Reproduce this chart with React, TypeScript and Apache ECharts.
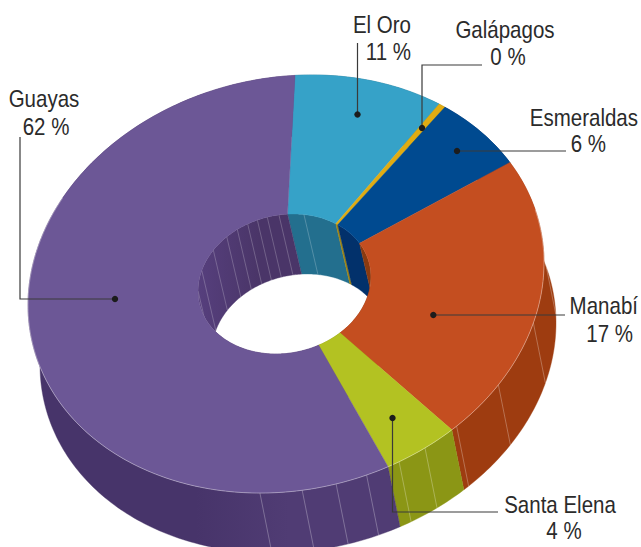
import React, { useEffect, useRef } from "react";
import * as echarts from "echarts";

// Slice sizes as drawn (degrees of the ring, clockwise, starting just right of 12 o'clock)
const names = ["El Oro", "Galápagos", "Esmeraldas", "Manabí", "Santa Elena", "Guayas"];
const shares = [34.4, 1.6, 22.2, 79.8, 16.7, 205.3];
const percentLabels = ["11 %", "0 %", "6 %", "17 %", "4 %", "62 %"];
const startAngle = 2;

const topColors = ["#36a2c8", "#e0ac12", "#004a90", "#c44e20", "#b3c222", "#6c5796"];
const outerWallColors = ["#247089", "#9a7a10", "#02316b", "#9e3c10", "#8b9615", "#47346a"];
const innerWallColors = ["#236f8e", "#a08410", "#02316b", "#8a3a10", "#8b9615", "#4e3a70"];

// Facet lines on the walls (angles)
const outerFacets = [87.6, 106.5, 124.6, 138.6, 147.4, 154, 161.8, 168.8, 176.4, 185.8];
const innerFacets = [270, 286.9, 304.6, 318.1, 326.9, 334.8, 341.7, 348.5, 356.3, 13];

// Annotation layout
const labelLayout = [
  { ax: "right", nx: 411, ny: 25, px: 411, py: 52 },
  { ax: "center", nx: 505, ny: 30, px: 508, py: 57 },
  { ax: "right", nx: 638, ny: 118, px: 606, py: 144 },
  { ax: "right", nx: 638, ny: 306, px: 633, py: 334 },
  { ax: "center", nx: 560, ny: 505, px: 564, py: 531 },
  { ax: "center", nx: 44, ny: 99, px: 46, py: 127 },
];
const leaders = [
  [[357.5, 114.5], [357.5, 43]],
  [[422, 128], [422, 65], [482, 65]],
  [[457, 151], [566, 151]],
  [[433.3, 315], [565, 315]],
  [[392.5, 418], [392.5, 512], [498, 512]],
  [[115, 299], [20, 299], [20, 137]],
];

const CX = 286, CY = 284;
const ICX = 284.5, ICY = 284;
const AX = 258, SKEW = -21, AY = 208;
const HOLE = 0.335;
const OUTER_SX = 12, INNER_SX = 14, SY = 60;
const FONT = '"Liberation Sans", sans-serif';

const rad = (d: number) => (d * Math.PI) / 180;
const outerPt = (t: number, ox = 0, oy = 0) => {
  const s = Math.sin(rad(t)), c = Math.cos(rad(t));
  return [CX + AX * s + ox, CY + SKEW * s - AY * c + oy];
};
const innerPt = (t: number, ox = 0, oy = 0) => {
  const s = Math.sin(rad(t)), c = Math.cos(rad(t));
  return [ICX + HOLE * AX * s + ox, ICY + HOLE * (SKEW * s - AY * c) + oy];
};
const arc = (f: any, a: number, b: number, ox = 0, oy = 0) => {
  const pts: number[][] = [];
  const n = Math.max(2, Math.ceil(b - a));
  for (let i = 0; i <= n; i++) pts.push(f(a + ((b - a) * i) / n, ox, oy));
  return pts;
};

const bounds: number[] = [];
shares.reduce((acc, v) => {
  bounds.push(acc);
  return acc + v;
}, startAngle);
const sliceData = shares.map((v, i) => ({ name: names[i], value: v }));

const guayasOuter = new echarts.graphic.LinearGradient(0, 0, 1, 0, [
  { offset: 0.45, color: "#47346a" },
  { offset: 0.7, color: "#503c74" },
]);
const guayasInner = new echarts.graphic.LinearGradient(0, 0, 1, 0, [
  { offset: 0, color: "#563f7d" },
  { offset: 0.45, color: "#4a3568" },
]);

const band = (i: number, f: any, sx: number, color: any) => {
  const a = bounds[i], b = a + shares[i];
  const pts = [...arc(f, a, b), ...arc(f, a, b, sx, SY).reverse()];
  return {
    type: "polygon",
    shape: { points: pts },
    style: { fill: color, stroke: typeof color === "string" ? color : "#4a3568", lineWidth: 0.4 },
  };
};

const series: any[] = [
  {
    type: "custom",
    name: "outer walls",
    coordinateSystem: "none",
    z: 2,
    silent: true,
    data: sliceData,
    renderItem: (p: any) =>
      band(p.dataIndex, outerPt, OUTER_SX, p.dataIndex === 5 ? guayasOuter : outerWallColors[p.dataIndex]),
  },
  {
    type: "custom",
    name: "outer facets",
    coordinateSystem: "none",
    z: 3,
    silent: true,
    data: outerFacets,
    renderItem: (p: any, api: any) => {
      const t = api.value(0);
      const a = outerPt(t), b = outerPt(t, OUTER_SX, SY);
      return {
        type: "line",
        shape: { x1: a[0], y1: a[1], x2: b[0], y2: b[1] },
        style: { stroke: "rgba(255,255,255,0.35)", lineWidth: 0.8 },
      };
    },
  },
  {
    type: "custom",
    name: "inner walls",
    coordinateSystem: "none",
    z: 4,
    silent: true,
    data: sliceData,
    renderItem: (p: any) =>
      band(p.dataIndex, innerPt, INNER_SX, p.dataIndex === 5 ? guayasInner : innerWallColors[p.dataIndex]),
  },
  {
    type: "custom",
    name: "inner facets",
    coordinateSystem: "none",
    z: 5,
    silent: true,
    data: innerFacets,
    renderItem: (p: any, api: any) => {
      const t = api.value(0);
      const a = innerPt(t), b = innerPt(t, INNER_SX, SY);
      return {
        type: "line",
        shape: { x1: a[0], y1: a[1], x2: b[0], y2: b[1] },
        style: { stroke: "rgba(255,255,255,0.28)", lineWidth: 0.8 },
      };
    },
  },
  {
    type: "custom",
    name: "top",
    coordinateSystem: "none",
    z: 6,
    silent: true,
    data: sliceData,
    renderItem: (p: any) => {
      const i = p.dataIndex;
      const a = bounds[i], b = a + shares[i];
      const pts = [...arc(outerPt, a, b), ...arc(innerPt, a, b).reverse()];
      return {
        type: "group",
        children: [
          {
            type: "polygon",
            shape: { points: pts },
            style: { fill: topColors[i], stroke: topColors[i], lineWidth: 0.4 },
          },
          {
            type: "polyline",
            shape: { points: arc(outerPt, Math.max(a, 75), Math.min(b, 300)) },
            ignore: b < 75 || a > 300,
            style: { fill: "none", stroke: "rgba(255,255,255,0.45)", lineWidth: 0.8 },
          },
        ],
      };
    },
  },
];

const graphicEls: any[] = [];
leaders.forEach((pts) => {
  graphicEls.push({
    type: "polyline",
    z: 20,
    shape: { points: pts },
    style: { fill: "none", stroke: "#3a3a3a", lineWidth: 1.2 },
    silent: true,
  });
  graphicEls.push({
    type: "circle",
    z: 21,
    shape: { cx: pts[0][0], cy: pts[0][1], r: 3.2 },
    style: { fill: "#1c1c1c" },
    silent: true,
  });
});
labelLayout.forEach((l, i) => {
  const common = { fill: "#2b2b2b", font: `24px ${FONT}`, textAlign: l.ax, textVerticalAlign: "middle" };
  graphicEls.push({ type: "text", z: 22, x: l.nx, y: l.ny, scaleX: 0.855, style: { ...common, text: names[i] } });
  graphicEls.push({ type: "text", z: 22, x: l.px, y: l.py, scaleX: 0.855, style: { ...common, text: percentLabels[i] } });
});

export default function App() {
  const ref = useRef<HTMLDivElement>(null);
  useEffect(() => {
    document.body.style.margin = "0";
    const chart = echarts.init(ref.current!, undefined, { renderer: "svg" });
    chart.setOption({
      animation: false,
      backgroundColor: "#ffffff",
      graphic: { elements: graphicEls },
      series,
    });
    return () => chart.dispose();
  }, []);
  return <div ref={ref} style={{ width: 641, height: 547, overflow: "hidden" }} />;
}
